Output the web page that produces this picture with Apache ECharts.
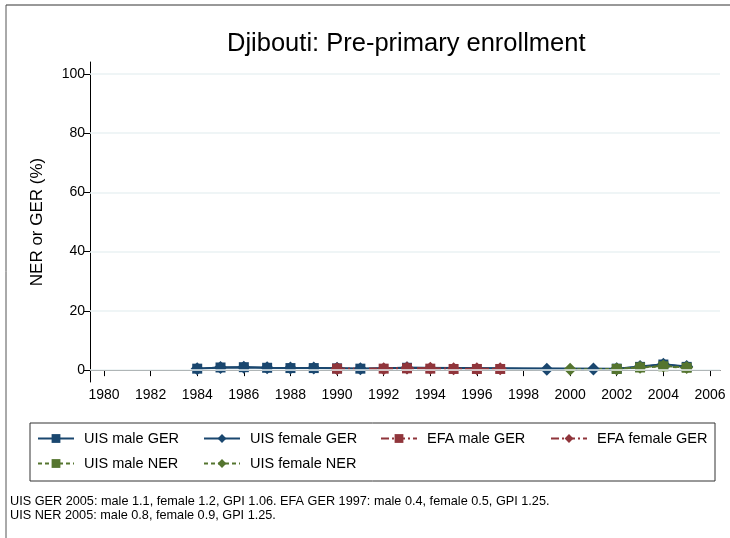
<!DOCTYPE html>
<html>
<head>
<meta charset="utf-8">
<script src="https://cdn.jsdelivr.net/npm/echarts@6/dist/echarts.min.js"></script>
<style>
  html, body { margin: 0; padding: 0; background: #fff; }
  #main { width: 730px; height: 538px; }
</style>
</head>
<body>
<div id="main"></div>
<script>
var years = [1984, 1985, 1986, 1987, 1988, 1989, 1990, 1991, 1992, 1993, 1994,
             1995, 1996, 1997, 1998, 1999, 2000, 2001, 2002, 2003, 2004, 2005];
// values per year, null = no data
var uisMaleGER   = [0.5, 0.9, 1.0, 0.8, 0.7, 0.7, 0.6, 0.5, null, 0.8, null, null, null, null, null, null, null, null, 0.5, 1.1, 1.9, 1.1];
var uisFemaleGER = [0.5, 0.9, 1.0, 0.8, 0.7, 0.7, 0.6, 0.5, null, 0.8, null, null, null, null, null, 0.3, null, 0.4, 0.5, 1.2, 2.0, 1.2];
var efaMaleGER   = [null, null, null, null, null, null, 0.5, null, 0.5, 0.6, 0.5, 0.4, 0.4, 0.4, null, null, null, null, null, null, null, null];
var efaFemaleGER = [null, null, null, null, null, null, 0.5, null, 0.5, 0.7, 0.6, 0.5, 0.5, 0.5, null, null, null, null, null, null, null, null];
var uisMaleNER   = [null, null, null, null, null, null, null, null, null, null, null, null, null, null, null, null, null, null, 0.4, 0.9, 1.3, 0.8];
var uisFemaleNER = [null, null, null, null, null, null, null, null, null, null, null, null, null, null, null, null, 0.3, null, 0.4, 1.0, 1.4, 0.9];

var xTicks = [1980, 1982, 1984, 1986, 1988, 1990, 1992, 1994, 1996, 1998, 2000, 2002, 2004, 2006];
var yTicks = [0, 20, 40, 60, 80, 100];

var names = ['UIS male GER', 'UIS female GER', 'EFA male GER', 'EFA female GER', 'UIS male NER', 'UIS female NER'];

var blue = '#1a476f', red = '#90353b', green = '#55752f';
var FONT = 'Liberation Sans, Arial, sans-serif';

function pairs(vals) {
    return years.map(function (y, i) { return [y, vals[i]]; });
}

function mkSeries(name, vals, color, symbol, dash) {
    return {
        name: name,
        type: 'line',
        data: pairs(vals),
        connectNulls: true,
        symbol: symbol,
        symbolSize: symbol == 'rect' ? 10 : 13,
        showSymbol: true,
        z: 3,
        itemStyle: { color: color },
        lineStyle: { color: color, width: 2, type: dash },
        emphasis: { disabled: true }
    };
}

var chart = echarts.init(document.getElementById('main'));

var legendPos = [
    [37, 431], [203, 431], [380, 431], [550, 431],
    [37, 456], [203, 456]
];

var option = {
    animation: false,
    textStyle: { fontFamily: FONT },
    title: {
        text: 'Djibouti: Pre-primary enrollment',
        left: 222,
        top: 26,
        textStyle: { fontFamily: FONT, fontSize: 25.5, fontWeight: 'normal', color: '#000' }
    },
    grid: { left: 90, right: 10, top: 62, bottom: 156 },
    xAxis: {
        type: 'value',
        min: 1979.4,
        max: 2006.43,
        axisLine: { show: true, lineStyle: { color: '#000', width: 1 } },
        axisTick: { show: true, length: 6, customValues: xTicks, lineStyle: { color: '#000' } },
        axisLabel: {
            customValues: xTicks, color: '#000', fontSize: 14, margin: 6, fontFamily: FONT,
            formatter: function (v) { return String(v); }
        },
        splitLine: { show: false }
    },
    yAxis: {
        type: 'value',
        min: -4,
        max: 104,
        name: 'NER or GER (%)',
        nameLocation: 'middle',
        nameGap: 44,
        nameTextStyle: { fontSize: 17, color: '#000', fontFamily: FONT },
        axisLine: { show: true, lineStyle: { color: '#000', width: 1 } },
        axisTick: { show: true, length: 6, customValues: yTicks, lineStyle: { color: '#000' } },
        axisLabel: { customValues: yTicks, color: '#000', fontSize: 14, margin: 5, fontFamily: FONT },
        splitLine: { show: false }
    },
    legend: names.map(function (n, i) {
        return {
            data: [n],
            left: legendPos[i][0],
            top: legendPos[i][1],
            padding: 0,
            itemWidth: 36,
            itemHeight: 11,
            selectedMode: false,
            textStyle: { fontSize: 14.5, color: '#000', fontFamily: FONT, padding: [0, 0, 0, 5] }
        };
    }),
    graphic: [
        { type: 'line', shape: { x1: 6, y1: 5, x2: 730, y2: 5 }, style: { stroke: '#333', lineWidth: 1 } },
        { type: 'line', shape: { x1: 6, y1: 5, x2: 6, y2: 538 }, style: { stroke: '#555', lineWidth: 1 } },
        { type: 'rect', shape: { x: 30, y: 423, width: 685, height: 58 }, style: { fill: 'none', stroke: '#333', lineWidth: 1 } },
        { type: 'text', left: 10, top: 495, style: { text: 'UIS GER 2005: male 1.1, female 1.2, GPI 1.06. EFA GER 1997: male 0.4, female 0.5, GPI 1.25.\nUIS NER 2005: male 0.8, female 0.9, GPI 1.25.', font: '12.7px ' + FONT, fill: '#000', lineHeight: 13.5 } }
    ],
    series: [
        {
            name: 'grid',
            type: 'line',
            data: [],
            z: 1,
            markLine: {
                silent: true,
                symbol: 'none',
                label: { show: false },
                lineStyle: { color: '#eaf2f3', width: 1.5, type: 'solid' },
                data: yTicks.map(function (v) { return { yAxis: v }; })
            }
        },
        mkSeries(names[0], uisMaleGER, blue, 'rect', 'solid'),
        mkSeries(names[1], uisFemaleGER, blue, 'diamond', 'solid'),
        mkSeries(names[2], efaMaleGER, red, 'rect', [8, 3, 2, 3]),
        mkSeries(names[3], efaFemaleGER, red, 'diamond', [8, 3, 2, 3]),
        mkSeries(names[4], uisMaleNER, green, 'rect', [4, 3]),
        mkSeries(names[5], uisFemaleNER, green, 'diamond', [4, 3])
    ]
};

chart.setOption(option);
</script>
</body>
</html>
